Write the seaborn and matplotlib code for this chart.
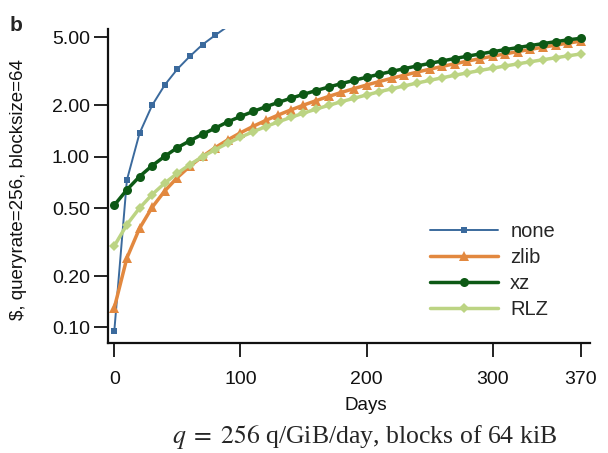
import matplotlib
matplotlib.use("Agg")
import matplotlib.pyplot as plt
import seaborn as sns
import pandas as pd
from matplotlib.ticker import FixedLocator, NullLocator

days_all = [0, 10, 20, 30, 40, 50, 60, 70, 80, 90, 100, 110, 120, 130, 140, 150, 160, 170, 180,
            190, 200, 210, 220, 230, 240, 250, 260, 270, 280, 290, 300, 310, 320, 330, 340, 350, 360, 370]
days_none = [0, 10, 20, 30, 40, 50, 60, 70, 80, 90]
none_vals = [0.095, 0.73, 1.37, 2.0, 2.63, 3.26, 3.88, 4.54, 5.15, 5.8]
zlib_vals = [0.13, 0.255, 0.38, 0.505, 0.63, 0.755, 0.88, 1.005, 1.13, 1.255, 1.38, 1.505, 1.63,
             1.755, 1.88, 2.005, 2.13, 2.255, 2.38, 2.505, 2.63, 2.755, 2.88, 3.005, 3.13, 3.255,
             3.38, 3.505, 3.63, 3.755, 3.88, 4.005, 4.13, 4.255, 4.38, 4.505, 4.63, 4.755]
xz_vals = [0.52, 0.64, 0.765, 0.886, 1.005, 1.13, 1.24, 1.355, 1.47, 1.6, 1.72, 1.84, 1.96,
           2.08, 2.2, 2.32, 2.44, 2.56, 2.68, 2.8, 2.92, 3.04, 3.16, 3.28, 3.4, 3.52, 3.64,
           3.76, 3.88, 4.0, 4.12, 4.24, 4.36, 4.48, 4.6, 4.72, 4.84, 4.94]
rlz_vals = [0.3, 0.4, 0.5, 0.6, 0.7, 0.8, 0.9, 1.0, 1.1, 1.2, 1.3, 1.4, 1.5, 1.6, 1.7, 1.8,
            1.9, 2.0, 2.1, 2.2, 2.3, 2.4, 2.5, 2.6, 2.7, 2.8, 2.9, 3.0, 3.1, 3.2, 3.3, 3.4,
            3.5, 3.6, 3.7, 3.8, 3.9, 4.0]
y_ticks = [0.1, 0.2, 0.5, 1.0, 2.0, 5.0]
y_ticklabels = ["0.10", "0.20", "0.50", "1.00", "2.00", "5.00"]
x_ticks = [0, 100, 200, 300, 370]

sns.set_style("ticks")
plt.rcParams["font.family"] = ["Liberation Sans", "DejaVu Sans"]
plt.rcParams["mathtext.fontset"] = "stix"

fig = plt.figure(figsize=(6.08, 4.53), dpi=100)
ax = fig.add_axes([0.1776, 0.2428, 0.7924, 0.6932])

series = [
    ("none", days_none, none_vals, "#3b6a9d", "s", 4.0, 1.4),
    ("zlib", days_all, zlib_vals, "#e2883f", "^", 6.5, 2.5),
    ("xz", days_all, xz_vals, "#0d5915", "o", 6.5, 2.5),
    ("RLZ", days_all, rlz_vals, "#bcd483", "D", 5.0, 2.5),
]
for name, d, v, c, m, ms, lw in series:
    df = pd.DataFrame({"Days": d, "cost": v})
    sns.lineplot(data=df, x="Days", y="cost", ax=ax, color=c, marker=m, markersize=ms,
                 markeredgewidth=0, linewidth=lw, label=name)

ax.set_yscale("log")
ax.set_ylim(0.081, 5.6)
ax.set_xlim(-5, 377)
ax.yaxis.set_major_locator(FixedLocator(y_ticks))
ax.yaxis.set_minor_locator(NullLocator())
ax.set_yticklabels(y_ticklabels)
ax.set_xticks(x_ticks)
ax.tick_params(axis="both", length=10, width=1.3, labelsize=14, color="#111111",
               labelcolor="#111111")
ax.tick_params(axis="x", pad=10)
ax.tick_params(axis="y", pad=3)
for s in ["top", "right"]:
    ax.spines[s].set_visible(False)
for s in ["left", "bottom"]:
    ax.spines[s].set_linewidth(1.6)
    ax.spines[s].set_color("#111111")

ax.set_xlabel("Days", fontsize=13.5, color="#111111")
ax.set_ylabel("$, queryrate=256, blocksize=64", fontsize=13.5, color="#111111")
ax.yaxis.set_label_coords(-0.168, 0.49)
ax.xaxis.set_label_coords(0.535, -0.172)

leg = ax.legend(loc="upper left", bbox_to_anchor=(0.651, 0.41), frameon=False, fontsize=14.5,
                handlelength=3.4, handletextpad=0.6, labelspacing=0.34, borderaxespad=0)

fig.text(0.016, 0.965, "b", fontsize=15, fontweight="bold", va="top")
fig.text(0.6, 0.035, r"$q\;=\;256$ q/GiB/day, blocks of 64 kiB", fontsize=18.5,
         family=["Liberation Serif", "DejaVu Serif"], ha="center", va="center")

fig.savefig("out.png", dpi=100)
